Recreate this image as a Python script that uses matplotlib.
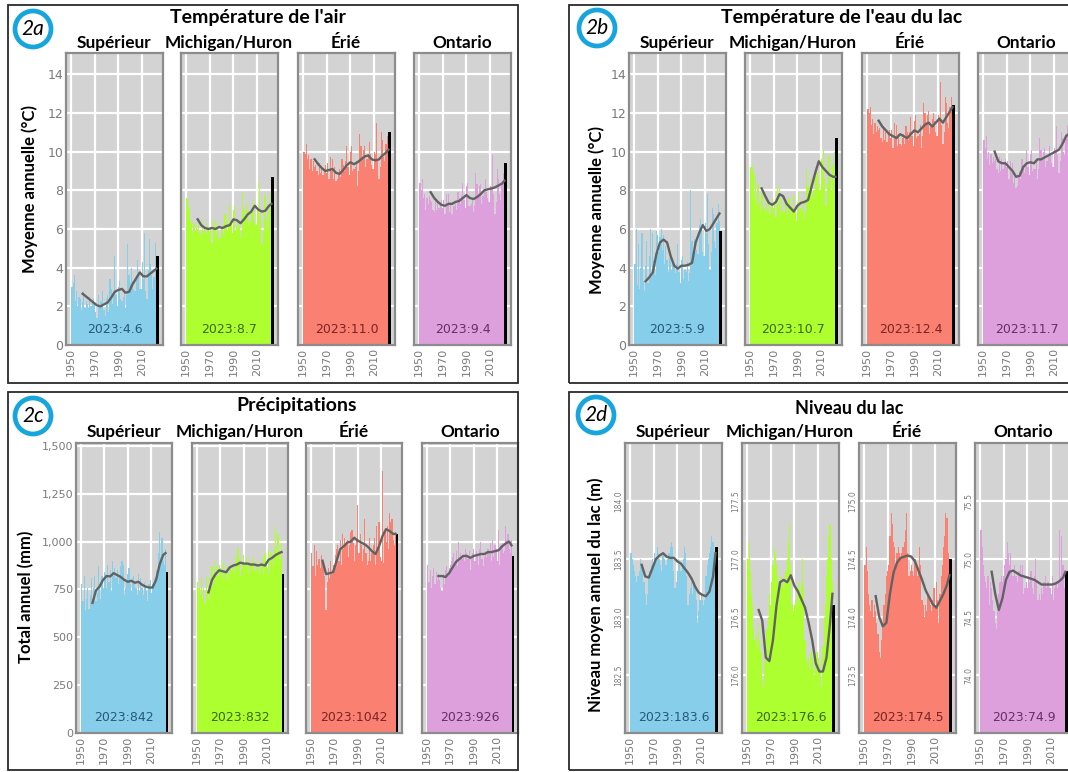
import numpy as np
import matplotlib.pyplot as plt
from matplotlib.patches import Rectangle, Ellipse

W, H = 1068, 772

# ---------------- data (annual values 1951-2022, plus 2023) ----------------
years = np.arange(1951, 2023)
lakes = ['Supérieur', 'Michigan/Huron', 'Érié', 'Ontario']

# 2a air temperature (deg C)
air_sup = [3.0, 3.2, 3.6, 2.3, 2.8, 2.0, 2.5, 2.4, 1.8, 2.2,
           2.8, 1.9, 2.3, 2.1, 1.9, 2.5, 2.0, 2.2, 2.4, 2.1,
           1.7, 1.4, 2.6, 2.0, 2.3, 2.2, 2.8, 1.8, 1.5, 2.4,
           2.6, 1.7, 3.4, 2.9, 2.1, 2.6, 4.6, 2.6, 2.0, 3.0,
           3.3, 2.4, 2.3, 2.5, 2.7, 1.9, 2.6, 5.2, 3.6, 3.2,
           4.0, 3.3, 2.9, 2.8, 3.6, 4.4, 3.8, 2.9, 2.9, 4.3,
           3.4, 5.8, 2.8, 2.4, 3.9, 5.5, 4.2, 3.6, 2.9, 3.5,
           5.3, 3.9]
air_mich = [7.6, 7.0, 7.2, 6.4, 6.3, 5.8, 6.3, 5.9, 6.2, 6.0,
            6.2, 5.8, 5.7, 6.5, 5.9, 6.1, 5.8, 6.2, 6.0, 5.9,
            6.1, 5.3, 6.5, 6.0, 6.4, 5.7, 6.3, 5.5, 5.6, 6.0,
            6.2, 5.7, 6.8, 6.4, 5.9, 6.2, 7.3, 6.3, 5.8, 7.0,
            7.2, 5.9, 6.1, 6.3, 6.2, 5.6, 5.9, 7.9, 7.0, 6.6,
            7.3, 7.0, 6.2, 6.4, 6.9, 7.5, 7.0, 6.3, 6.2, 7.1,
            7.1, 8.4, 6.6, 5.2, 5.9, 7.8, 7.7, 6.5, 6.1, 7.0,
            7.9, 7.0]
air_erie = [10.0, 9.9, 10.4, 9.6, 9.8, 9.1, 9.6, 9.0, 9.5, 9.2,
            9.3, 9.0, 8.8, 9.4, 8.9, 9.2, 8.8, 9.1, 9.3, 8.9,
            9.4, 8.6, 9.7, 9.0, 9.6, 8.6, 9.2, 8.5, 8.6, 8.9,
            9.1, 8.7, 9.6, 9.3, 9.0, 9.5, 10.3, 9.2, 8.8, 10.0,
            10.3, 9.0, 9.1, 9.2, 9.5, 8.2, 9.0, 10.9, 10.3, 9.6,
            10.1, 10.3, 9.2, 9.6, 9.9, 10.5, 9.9, 9.3, 9.1, 10.0,
            9.9, 11.5, 9.6, 8.6, 9.2, 11.0, 10.6, 9.7, 9.5, 10.4,
            10.8, 10.2]
air_ont = [8.4, 8.0, 8.6, 7.6, 7.8, 7.0, 7.6, 7.3, 7.7, 7.5,
           7.4, 7.0, 6.9, 7.6, 7.0, 7.5, 7.1, 7.3, 7.5, 7.1,
           7.5, 6.8, 7.8, 7.2, 7.8, 6.9, 7.4, 6.8, 7.2, 7.2,
           7.3, 7.0, 7.9, 7.6, 7.3, 7.7, 8.4, 7.5, 7.1, 8.2,
           8.4, 7.2, 7.2, 7.3, 7.6, 6.9, 7.2, 8.9, 8.3, 7.8,
           8.2, 8.3, 7.3, 7.7, 8.0, 8.6, 7.9, 7.6, 7.4, 8.2,
           8.1, 9.8, 7.8, 6.8, 7.4, 9.1, 8.6, 7.8, 7.5, 8.3,
           8.9, 8.4]
air_2023 = [4.6, 8.7, 11.0, 9.4]

# 2b lake surface water temperature (deg C)
wat_sup = [4.2, 6.0, 3.1, 5.2, 2.9, 4.0, 5.8, 3.3, 2.8, 4.1,
           5.4, 3.2, 4.6, 6.0, 3.5, 5.8, 4.4, 3.6, 5.9, 5.7,
           4.8, 5.6, 6.0, 4.9, 5.7, 4.2, 5.1, 4.4, 3.8, 4.5,
           4.6, 3.9, 4.3, 4.1, 3.7, 4.2, 5.2, 3.8, 3.2, 4.4,
           4.6, 3.4, 3.9, 3.8, 4.3, 3.3, 3.7, 8.0, 5.4, 4.6,
           5.5, 4.8, 4.9, 4.7, 6.2, 6.5, 6.0, 4.8, 4.6, 6.3,
           5.8, 7.8, 5.2, 3.9, 4.8, 7.1, 6.8, 5.4, 5.0, 6.3,
           7.3, 6.4]
wat_mich = [9.2, 9.3, 8.9, 7.6, 8.8, 7.2, 8.3, 7.4, 7.0, 7.8,
            7.9, 7.1, 6.9, 7.6, 7.0, 7.5, 6.8, 7.3, 7.6, 7.1,
            7.4, 6.6, 8.1, 7.3, 8.2, 7.0, 7.6, 6.9, 6.9, 7.4,
            7.5, 6.7, 7.6, 7.2, 6.8, 6.9, 7.8, 6.9, 6.4, 7.4,
            7.9, 6.9, 7.1, 6.9, 7.5, 6.5, 6.9, 9.1, 8.2, 7.6,
            8.4, 8.6, 7.6, 8.0, 8.7, 9.2, 8.9, 8.3, 8.0, 9.6,
            9.5, 10.1, 8.6, 7.2, 8.3, 9.9, 9.7, 8.6, 8.0, 9.3,
            10.0, 9.0]
wat_erie = [12.2, 12.0, 12.3, 11.4, 11.7, 10.9, 11.5, 11.0, 11.3, 11.1,
            11.2, 10.7, 10.5, 11.3, 10.6, 11.0, 10.5, 10.9, 11.1, 10.7,
            11.1, 10.2, 11.5, 10.8, 11.4, 10.3, 10.9, 10.4, 10.3, 10.7,
            10.9, 10.4, 11.3, 11.0, 10.6, 11.0, 11.8, 10.8, 10.3, 11.6,
            11.9, 10.7, 10.8, 10.9, 11.4, 10.2, 10.8, 12.5, 12.0, 11.4,
            11.9, 12.1, 10.9, 11.3, 11.7, 12.0, 11.6, 11.0, 10.8, 11.9,
            11.8, 13.6, 11.4, 10.4, 11.0, 12.8, 12.5, 11.5, 11.2, 12.3,
            12.8, 12.2]
wat_ont = [10.6, 10.2, 10.8, 9.6, 10.0, 9.3, 9.9, 9.4, 9.7, 9.5,
           9.6, 9.1, 8.9, 9.7, 9.0, 9.6, 9.1, 9.4, 9.6, 9.2,
           9.5, 8.6, 9.5, 8.9, 9.4, 8.4, 8.9, 8.1, 8.2, 8.7,
           9.0, 8.6, 9.6, 9.3, 8.9, 9.4, 10.1, 9.2, 8.8, 9.9,
           10.1, 9.0, 9.1, 9.1, 9.5, 8.6, 9.1, 10.7, 10.1, 9.6,
           10.0, 10.2, 9.2, 9.5, 9.9, 10.3, 9.8, 9.4, 9.2, 10.2,
           10.1, 11.3, 9.8, 8.9, 9.5, 11.0, 10.7, 10.0, 9.8, 10.9,
           11.4, 10.9]
wat_2023 = [5.9, 10.7, 12.4, 11.7]

# 2c precipitation (mm)
pr_sup = [780, 690, 820, 640, 700, 760, 650, 720, 810, 680,
          760, 820, 690, 730, 870, 780, 700, 820, 760, 840,
          830, 760, 880, 790, 850, 740, 900, 820, 860, 810,
          850, 780, 820, 870, 900, 880, 720, 760, 800, 830,
          860, 780, 740, 810, 820, 790, 760, 720, 830, 740,
          810, 760, 720, 790, 760, 740, 690, 780, 800, 730,
          780, 760, 810, 850, 830, 940, 1050, 920, 1020, 900,
          880, 960]
pr_mich = [790, 760, 720, 810, 700, 760, 680, 820, 740, 700,
           810, 760, 870, 780, 900, 830, 870, 820, 880, 860,
           850, 810, 900, 840, 880, 800, 860, 830, 880, 850,
           870, 830, 920, 900, 960, 910, 820, 850, 890, 930,
           880, 920, 890, 830, 870, 900, 880, 920, 840, 850,
           900, 860, 830, 890, 870, 920, 830, 940, 900, 860,
           960, 830, 940, 930, 880, 960, 1080, 950, 1040, 930,
           910, 990]
pr_erie = [940, 870, 980, 820, 950, 880, 910, 860, 930, 900,
           880, 820, 640, 790, 860, 810, 900, 830, 880, 850,
           930, 960, 980, 900, 1010, 880, 1040, 960, 1020, 990,
           1010, 920, 980, 1050, 1060, 990, 900, 980, 1010, 1190,
           940, 1040, 980, 900, 960, 1120, 940, 880, 900, 1020,
           900, 940, 980, 1020, 880, 1080, 970, 1100, 920, 900,
           1370, 890, 1050, 1000, 1080, 960, 1150, 1100, 1120, 1010,
           980, 1050]
pr_ont = [880, 790, 850, 760, 820, 860, 780, 840, 800, 830,
          800, 760, 740, 830, 780, 850, 870, 820, 860, 880,
          900, 920, 940, 880, 950, 870, 1000, 900, 940, 910,
          930, 900, 960, 940, 910, 950, 850, 910, 940, 960,
          900, 950, 930, 880, 960, 1000, 910, 870, 920, 950,
          920, 960, 940, 990, 900, 1010, 920, 980, 960, 900,
          1060, 880, 980, 990, 940, 950, 1080, 1010, 1040, 960,
          940, 1010]
pr_2023 = [842, 832, 1042, 926]

# 2d lake level (m)
lv_sup = [183.55, 183.50, 183.45, 183.40, 183.35, 183.30, 183.35, 183.40, 183.50, 183.45,
          183.40, 183.30, 183.20, 183.10, 183.20, 183.35, 183.40, 183.45, 183.50, 183.45,
          183.55, 183.50, 183.60, 183.55, 183.50, 183.45, 183.40, 183.55, 183.50, 183.45,
          183.45, 183.50, 183.55, 183.60, 183.65, 183.60, 183.40, 183.25, 183.30, 183.40,
          183.50, 183.45, 183.40, 183.45, 183.50, 183.60, 183.55, 183.35, 183.10, 183.20,
          183.25, 183.30, 183.20, 183.30, 183.25, 183.15, 182.95, 183.05, 183.15, 183.20,
          183.15, 183.10, 183.15, 183.35, 183.45, 183.50, 183.55, 183.60, 183.70, 183.65,
          183.50, 183.45]
lv_mich = [177.00, 177.15, 176.90, 176.70, 176.60, 176.40, 176.30, 176.35, 176.25, 176.45,
           176.30, 176.20, 175.95, 175.90, 176.10, 176.30, 176.40, 176.50, 176.70, 176.60,
           176.80, 176.95, 177.10, 177.05, 176.95, 176.85, 176.65, 176.80, 176.85, 176.80,
           176.75, 176.80, 176.90, 177.00, 177.15, 177.30, 176.95, 176.60, 176.55, 176.60,
           176.65, 176.60, 176.75, 176.80, 176.70, 176.80, 177.00, 176.75, 176.30, 176.15,
           176.10, 176.15, 176.05, 176.20, 176.15, 176.05, 176.00, 176.10, 176.20, 176.15,
           176.10, 176.05, 175.90, 176.25, 176.50, 176.60, 176.85, 177.00, 177.20, 177.30,
           177.00, 176.80]
lv_erie = [174.45, 174.60, 174.40, 174.20, 174.10, 174.05, 174.15, 174.00, 174.10, 174.05,
           173.95, 173.85, 173.70, 173.65, 173.80, 173.95, 174.10, 174.20, 174.35, 174.40,
           174.45, 174.70, 174.90, 174.80, 174.65, 174.60, 174.40, 174.55, 174.60, 174.55,
           174.50, 174.55, 174.60, 174.65, 174.75, 174.90, 174.55, 174.35, 174.40, 174.45,
           174.40, 174.35, 174.50, 174.45, 174.35, 174.40, 174.60, 174.45, 174.15, 174.10,
           174.00, 174.10, 174.05, 174.20, 174.15, 174.10, 174.05, 174.15, 174.25, 174.10,
           174.30, 174.15, 173.95, 174.20, 174.35, 174.45, 174.60, 174.70, 174.90, 174.85,
           174.55, 174.45]
lv_ont = [75.25, 75.10, 74.95, 74.85, 74.80, 74.75, 74.85, 74.60, 74.80, 74.75,
          74.65, 74.55, 74.45, 74.40, 74.55, 74.70, 74.80, 74.85, 74.80, 74.85,
          74.95, 75.00, 75.15, 75.05, 74.95, 75.05, 74.90, 74.85, 74.95, 74.85,
          74.85, 74.80, 74.90, 74.95, 74.85, 74.95, 74.70, 74.75, 74.80, 74.75,
          74.85, 74.80, 74.90, 74.75, 74.70, 74.85, 75.00, 74.80, 74.65, 74.70,
          74.65, 74.75, 74.70, 74.80, 74.85, 74.75, 74.80, 74.80, 74.75, 74.70,
          74.85, 74.65, 74.75, 74.80, 74.75, 74.80, 75.25, 74.85, 75.20, 74.95,
          74.75, 74.80]
lv_2023 = [183.6, 176.6, 174.5, 74.9]

# smoothed (running mean) lines
tr_yrs = [1960, 1963, 1966, 1969, 1972, 1975, 1978, 1981, 1984, 1987, 1990,
          1993, 1996, 1999, 2002, 2005, 2008, 2011, 2014, 2017, 2020, 2022]
air_sup_tr = [2.65, 2.5, 2.35, 2.2, 2.05, 2.0, 2.1, 2.2, 2.45, 2.75, 2.85,
              2.9, 2.7, 2.75, 3.15, 3.45, 3.75, 3.55, 3.55, 3.7, 3.85, 3.95]
air_mich_tr = [6.5, 6.2, 6.05, 6.0, 6.05, 6.0, 6.1, 6.05, 6.15, 6.2, 6.5,
               6.45, 6.3, 6.5, 6.75, 6.9, 7.2, 7.0, 6.9, 6.95, 7.2, 7.3]
air_erie_tr = [9.6, 9.35, 9.15, 9.0, 9.05, 9.1, 8.9, 8.85, 9.05, 9.3, 9.45,
               9.35, 9.45, 9.6, 9.75, 9.8, 9.6, 9.55, 9.6, 9.8, 9.95, 10.1]
air_ont_tr = [7.9, 7.6, 7.4, 7.25, 7.2, 7.3, 7.3, 7.4, 7.45, 7.6, 7.75,
              7.6, 7.55, 7.65, 7.8, 8.0, 8.05, 8.1, 8.15, 8.25, 8.35, 8.5]
wat_sup_tr = [3.3, 3.5, 3.75, 4.7, 5.3, 5.45, 5.3, 4.6, 4.1, 3.95, 4.1,
              4.1, 4.15, 4.25, 5.3, 5.8, 6.2, 5.9, 6.0, 6.3, 6.6, 6.8]
wat_mich_tr = [8.1, 7.7, 7.35, 7.25, 7.4, 7.8, 7.7, 7.3, 7.1, 6.9, 7.2,
               7.35, 7.4, 7.5, 8.2, 8.9, 9.5, 9.2, 9.0, 8.8, 8.7, 8.7]
wat_erie_tr = [11.6, 11.3, 11.1, 10.9, 10.8, 10.7, 10.9, 10.8, 10.7, 10.9, 11.1,
               11.0, 11.2, 11.4, 11.5, 11.3, 11.5, 11.7, 11.5, 11.8, 12.1, 12.3]
wat_ont_tr = [10.0, 9.5, 9.4, 9.4, 9.2, 9.0, 8.7, 8.75, 9.2, 9.4, 9.45,
              9.4, 9.6, 9.6, 9.7, 9.8, 9.9, 10.0, 10.1, 10.4, 10.8, 10.9]
pr_sup_tr = [680, 745, 765, 800, 820, 818, 835, 825, 815, 800, 790,
             795, 785, 790, 775, 765, 760, 760, 800, 880, 930, 940]
pr_mich_tr = [735, 800, 830, 850, 845, 840, 865, 875, 880, 890, 885,
              885, 880, 880, 875, 880, 875, 905, 915, 930, 940, 945]
pr_erie_tr = [900, 830, 835, 840, 900, 960, 975, 995, 1000, 1020, 1005,
              995, 985, 970, 950, 935, 975, 1030, 1065, 1055, 1040, 1040]
pr_ont_tr = [820, 820, 815, 835, 865, 895, 910, 925, 925, 915, 925,
             930, 935, 935, 945, 945, 950, 955, 975, 990, 1000, 980]
lv_sup_tr = [183.45, 183.35, 183.34, 183.42, 183.50, 183.53, 183.55, 183.52, 183.51, 183.51, 183.48,
             183.46, 183.42, 183.38, 183.33, 183.26, 183.21, 183.19, 183.18, 183.22, 183.35, 183.55]
lv_mich_tr = [176.56, 176.47, 176.15, 176.12, 176.30, 176.60, 176.80, 176.82, 176.80, 176.86, 176.77,
              176.72, 176.65, 176.58, 176.45, 176.30, 176.10, 176.03, 176.03, 176.15, 176.45, 176.70]
lv_erie_tr = [174.18, 174.00, 173.92, 173.95, 174.20, 174.38, 174.47, 174.51, 174.52, 174.53, 174.52,
              174.48, 174.40, 174.32, 174.23, 174.17, 174.11, 174.08, 174.14, 174.20, 174.28, 174.36]
lv_ont_tr = [74.89, 74.70, 74.56, 74.66, 74.82, 74.89, 74.90, 74.88, 74.86, 74.85, 74.84,
             74.83, 74.82, 74.80, 74.78, 74.78, 74.78, 74.78, 74.79, 74.81, 74.84, 74.89]

bar_colors = ['#87ceeb', '#adff2f', '#fa8072', '#dda0dd']
txt_colors = ['#275a78', '#3c6a12', '#7c2424', '#6b2c6b']

temp_ticks = [0, 2, 4, 6, 8, 10, 12, 14]
pr_ticks = [0, 250, 500, 750, 1000, 1250, 1500]
pr_tick_labels = ['0', '250', '500', '750', '1,000', '1,250', '1,500']
lv_ticks = [[182.5, 183.0, 183.5, 184.0], [176.0, 176.5, 177.0, 177.5],
            [173.5, 174.0, 174.5, 175.0], [74.0, 74.5, 75.0, 75.5]]
lv_lims = [(182.0, 184.5), (175.5, 178.0), (173.0, 175.5), (73.5, 76.0)]

# ---------------- figure ----------------
fig = plt.figure(figsize=(W / 100, H / 100), dpi=100)
bold = dict(family=['Lato', 'DejaVu Sans'], weight='bold')
grey_txt = '#7a7a7a'
name_size = 12.4


def px_axes(left, top, width, height):
    return fig.add_axes([left / W, 1 - (top + height) / H, width / W, height / H])


def ftext(x, y, s, **kw):
    fig.text(x / W, 1 - y / H, s, ha='center', va='center', **kw)


def lake_axes(left, top, width, height, vals, last, trend, i, ylim, fmt):
    ax = px_axes(left, top, width, height)
    ax.set_facecolor('#d3d3d3')
    base = ylim[0]
    ax.bar(years, np.array(vals) - base, bottom=base, width=1.0,
           color=bar_colors[i], linewidth=0)
    ax.bar([2023], [last - base], bottom=base, width=2.0, color='black', linewidth=0)
    ax.plot(tr_yrs, trend, color='#626262', lw=1.7)
    ax.set_xlim(1946, 2027.5)
    ax.set_ylim(*ylim)
    ax.set_axisbelow(True)
    ax.grid(color='white', lw=1.6)
    ax.set_xticks([1950, 1970, 1990, 2010])
    ax.set_xticklabels(['1950', '1970', '1990', '2010'], rotation=90,
                       fontsize=8, color=grey_txt)
    ax.tick_params(length=0, pad=2)
    for s in ax.spines.values():
        s.set_color('#8c8c8c')
        s.set_linewidth(1.6)
    ax.text(0.5, 0.03, '2023:' + fmt.format(last), transform=ax.transAxes,
            ha='center', va='bottom', fontsize=9, color=txt_colors[i])
    return ax


def badge(cx, cy, label):
    r = 18
    fig.add_artist(Ellipse((cx / W, 1 - cy / H), 2 * r / W, 2 * r / H,
                           transform=fig.transFigure, facecolor='white',
                           edgecolor='#17a5de', lw=3.4))
    fig.text(cx / W, 1 - cy / H, label, ha='center', va='center',
             fontsize=15, style='italic', family=['Lato', 'DejaVu Sans'])


def frame(x0, y0, x1, y1):
    fig.add_artist(Rectangle((x0 / W, 1 - y1 / H), (x1 - x0) / W, (y1 - y0) / H,
                             transform=fig.transFigure, fill=False,
                             edgecolor='#2a2a2a', lw=1.3))


# panel frames
frame(8, 5, 518, 383)
frame(569, 5, 1090, 383)
frame(8, 392, 518, 770)
frame(569, 392, 1090, 770)

# 2a air temperature
air = [air_sup, air_mich, air_erie, air_ont]
air_tr = [air_sup_tr, air_mich_tr, air_erie_tr, air_ont_tr]
for i, left in enumerate([66, 181, 298, 414]):
    ax = lake_axes(left, 53, 97, 292, air[i], air_2023[i], air_tr[i], i, (0, 15.1), '{:.1f}')
    ax.set_yticks(temp_ticks)
    if i == 0:
        ax.set_yticklabels([str(t) for t in temp_ticks], fontsize=9, color=grey_txt)
    else:
        ax.tick_params(labelleft=False)
    ftext(left + 48, 43, lakes[i], fontsize=name_size, **bold)
ftext(258, 17, "Température de l'air", fontsize=14, **bold)
fig.text(30 / W, 1 - 189 / H, 'Moyenne annuelle (°C)', rotation=90, ha='center',
         va='center', fontsize=12, **bold)
badge(33, 29, '2a')

# 2b water temperature
wat = [wat_sup, wat_mich, wat_erie, wat_ont]
wat_tr = [wat_sup_tr, wat_mich_tr, wat_erie_tr, wat_ont_tr]
for i, left in enumerate([629, 745, 862, 978]):
    ax = lake_axes(left, 53, 97, 292, wat[i], wat_2023[i], wat_tr[i], i, (0, 15.1), '{:.1f}')
    ax.set_yticks(temp_ticks)
    if i == 0:
        ax.set_yticklabels([str(t) for t in temp_ticks], fontsize=9, color=grey_txt)
    else:
        ax.tick_params(labelleft=False)
    ftext(left + 48, 43, lakes[i], fontsize=name_size, **bold)
ftext(842, 17, "Température de l'eau du lac", fontsize=14, **bold)
fig.text(597 / W, 1 - 210 / H, 'Moyenne annuelle (°C)', rotation=90, ha='center',
         va='center', fontsize=12, **bold)
badge(597, 28, '2b')

# 2c precipitation
pr = [pr_sup, pr_mich, pr_erie, pr_ont]
pr_tr = [pr_sup_tr, pr_mich_tr, pr_erie_tr, pr_ont_tr]
for i, left in enumerate([76, 192, 306, 422]):
    ax = lake_axes(left, 443, 96, 290, pr[i], pr_2023[i], pr_tr[i], i, (0, 1515), '{:.0f}')
    ax.set_yticks(pr_ticks)
    if i == 0:
        ax.set_yticklabels(pr_tick_labels, fontsize=8, color=grey_txt)
    else:
        ax.tick_params(labelleft=False)
    ftext(left + 48, 432, lakes[i], fontsize=name_size, **bold)
ftext(297, 405, 'Précipitations', fontsize=14, **bold)
fig.text(26 / W, 1 - 597 / H, 'Total annuel (mm)', rotation=90, ha='center',
         va='center', fontsize=12, **bold)
badge(33, 416, '2c')

# 2d lake level
lv = [lv_sup, lv_mich, lv_erie, lv_ont]
lv_tr = [lv_sup_tr, lv_mich_tr, lv_erie_tr, lv_ont_tr]
for i, left in enumerate([625, 742, 859, 975]):
    ax = lake_axes(left, 443, 97, 290, lv[i], lv_2023[i], lv_tr[i], i, lv_lims[i], '{:.1f}')
    ax.set_yticks(lv_ticks[i])
    ax.set_yticklabels(['{:.1f}'.format(t) for t in lv_ticks[i]], fontsize=5.5,
                       color=grey_txt, rotation=90, va='center')
    ax.tick_params(axis='y', pad=1)
    ftext(left + 48, 432, lakes[i], fontsize=name_size, **bold)
ftext(849, 408, 'Niveau du lac', fontsize=13, **bold)
fig.text(596 / W, 1 - 595 / H, 'Niveau moyen annuel du lac (m)', rotation=90,
         ha='center', va='center', fontsize=12, **bold)
badge(596, 415, '2d')

fig.savefig('out.png', dpi=100)
